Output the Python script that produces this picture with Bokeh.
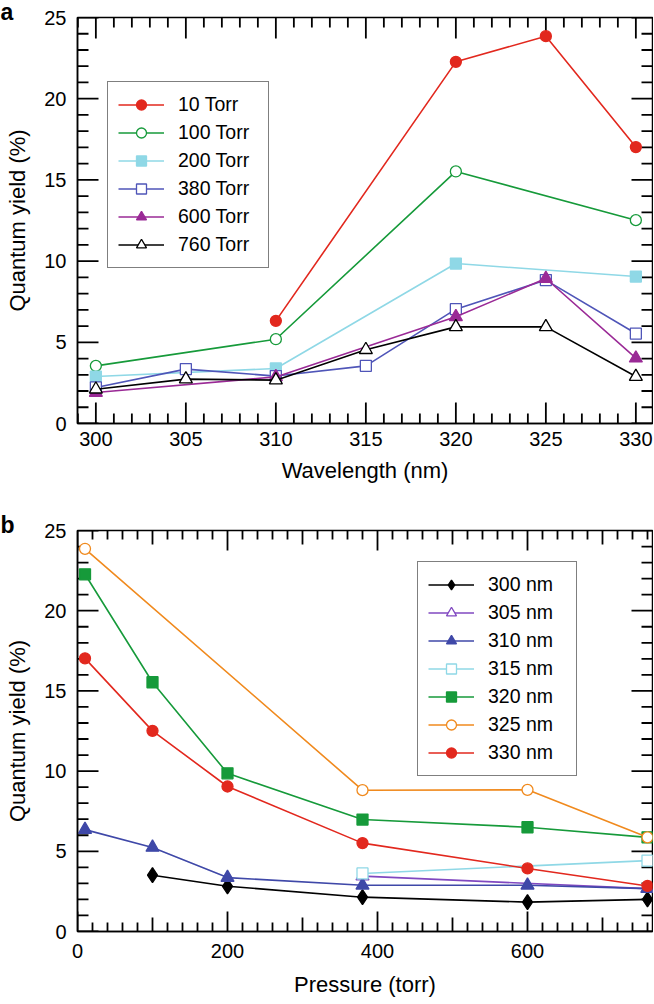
from bokeh.plotting import figure
from bokeh.models import Range1d, FixedTicker, Legend, LegendItem, Title
from bokeh.layouts import column
from bokeh.embed import file_html
from bokeh.resources import INLINE

FONT = "Liberation Sans"
NAN = float("nan")

# ---------------- Panel a data (x = wavelength, nm) ----------------
a_labels = ["10 Torr", "100 Torr", "200 Torr", "380 Torr", "600 Torr", "760 Torr"]
a_x_10 = [310, 320, 325, 330]
a_y_10 = [6.32, 22.27, 23.85, 17.02]
a_x_100 = [300, 310, 320, 330]
a_y_100 = [3.55, 5.19, 15.52, 12.52]
a_x_200 = [300, 310, 320, 330]
a_y_200 = [2.89, 3.39, 9.85, 9.05]
a_x_380 = [300, 305, 310, 315, 320, 325, 330]
a_y_380 = [2.22, 3.35, 2.92, 3.55, 7.04, 8.83, 5.54]
a_x_600 = [300, 310, 320, 325, 330]
a_y_600 = [1.91, 2.87, 6.57, 8.93, 4.02]
a_x_760 = [300, 305, 310, 315, 320, 325, 330]
a_y_760 = [2.11, 2.73, 2.67, 4.54, 5.95, 5.95, 2.89]

# ---------------- Panel b data (x = pressure, torr) ----------------
b_labels = ["300 nm", "305 nm", "310 nm", "315 nm", "320 nm", "325 nm", "330 nm"]
b_x_300 = [100, 200, 380, 600, 760]
b_y_300 = [3.51, 2.82, 2.14, 1.83, 2.00]
b_x_305 = [380, 760]
b_y_305 = [3.45, 2.67]
b_x_310 = [10, 100, 200, 380, 600, 760]
b_y_310 = [6.35, 5.24, 3.36, 2.88, 2.88, 2.67]
b_x_315 = [380, 760]
b_y_315 = [3.62, 4.42]
b_x_320 = [10, 100, 200, 380, 600, 760]
b_y_320 = [22.27, 15.54, 9.86, 6.98, 6.50, 5.87]
b_x_325 = [10, 380, 600, 760]
b_y_325 = [23.86, 8.81, 8.83, 5.87]
b_x_330 = [10, 100, 200, 380, 600, 760]
b_y_330 = [17.03, 12.51, 9.04, 5.51, 3.93, 2.84]

# ---------------- ticks ----------------
a_xticks = [300, 305, 310, 315, 320, 325, 330]
a_xminor = [299, 301, 302, 303, 304, 306, 307, 308, 309, 311, 312, 313, 314,
            316, 317, 318, 319, 321, 322, 323, 324, 326, 327, 328, 329]
yticks = [0, 5, 10, 15, 20, 25]
yminor = [1, 2, 3, 4, 6, 7, 8, 9, 11, 12, 13, 14, 16, 17, 18, 19, 21, 22, 23, 24]
b_xticks = [0, 200, 400, 600]
b_xmid = [100, 300, 500, 700]
b_xminor = [20, 40, 60, 80, 120, 140, 160, 180, 220, 240, 260, 280, 320, 340, 360, 380,
            420, 440, 460, 480, 520, 540, 560, 580, 620, 640, 660, 680, 720, 740, 760]

RED = "#e2281e"
GREEN = "#169a3a"
CYAN = "#8fd8e6"
BLUE380 = "#4f55b8"
MAGENTA = "#9a2a96"
BLACK = "#000000"
PURPLE = "#8048c0"
BLUE310 = "#3f48a8"
ORANGE = "#f08a1e"

FW = 575


def make_fig(x0, x1, xt, xlabel, fh, top_border, bottom_border, panel, tick_sd, lab_sd):
    p = figure(frame_width=FW, frame_height=fh, x_range=Range1d(x0, x1), y_range=Range1d(0, 25),
               output_backend="svg", toolbar_location=None,
               min_border_left=77, min_border_right=1,
               min_border_top=top_border, min_border_bottom=bottom_border)
    p.grid.visible = False
    p.outline_line_color = "black"
    p.outline_line_width = 1.5
    p.background_fill_color = "white"
    p.border_fill_color = "white"
    p.xaxis.ticker = FixedTicker(ticks=xt, minor_ticks=[])
    p.yaxis.ticker = FixedTicker(ticks=yticks, minor_ticks=[])
    p.xaxis.axis_label = xlabel
    p.yaxis.axis_label = "Quantum yield (%)"
    for ax in p.xaxis + p.yaxis:
        ax.axis_line_color = "black"
        ax.axis_line_width = 1.5
        ax.major_tick_in = 0
        ax.major_tick_out = 0
        ax.minor_tick_in = 0
        ax.minor_tick_out = 0
        ax.major_tick_line_color = None
        ax.minor_tick_line_color = None
        ax.major_label_text_font = FONT
        ax.major_label_text_font_size = "20px"
        ax.major_label_text_color = "black"
        ax.axis_label_text_font = FONT
        ax.axis_label_text_font_style = "normal"
        ax.axis_label_text_color = "black"
        ax.axis_label_text_font_size = "22px"
    p.xaxis.major_label_standoff = tick_sd
    p.xaxis.axis_label_standoff = lab_sd
    p.yaxis.major_label_standoff = 11
    p.yaxis.axis_label_standoff = 11
    p.add_layout(Title(text=panel, align="left", offset=-77, standoff=-14,
                       vertical_align="bottom", text_font=FONT, text_font_style="bold",
                       text_font_size="23px", text_color="black"), "above")
    return p


def add_ticks(p, x0, x1, fh, xsets, ysets):
    # inward tick marks on all four sides, one polyline broken by NaN gaps
    ky = 25.0 / fh
    kx = (x1 - x0) / FW
    xs, ys = [], []
    for ticks, L in xsets:
        for t in ticks:
            xs += [t, t, NAN, t, t, NAN]
            ys += [0.0, L * ky, NAN, 25.0, 25.0 - L * ky, NAN]
    for ticks, L in ysets:
        for t in ticks:
            xs += [x0, x0 + L * kx, NAN, x1, x1 - L * kx, NAN]
            ys += [t, t, NAN, t, t, NAN]
    p.line(xs, ys, line_color="black", line_width=1.8)


def series(p, x, y, color, marker, fill, size):
    lr = p.line(x, y, line_color=color, line_width=1.6)
    sr = p.scatter(x, y, marker=marker, size=size,
                   fill_color=fill, line_color=color, line_width=1.3)
    return [lr, sr]


def make_legend(items, loc, lw):
    return Legend(items=items, location=loc, label_text_font=FONT,
                  label_text_font_size="19.5px", label_text_color="black",
                  glyph_width=46, glyph_height=25, label_height=25, spacing=3,
                  padding=10, label_standoff=14, label_width=lw,
                  border_line_color="black", border_line_width=1.5,
                  background_fill_color="white", background_fill_alpha=1.0, margin=0)


# ---------------- Panel a ----------------
AX0, AX1 = 298.98, 298.98 + FW / 18.0
FHA = 406
pa = make_fig(AX0, AX1, a_xticks, "Wavelength (nm)", FHA, 17, 74, "a", 8, 9)
add_ticks(pa, AX0, AX1, FHA, [(a_xticks, 21), (a_xminor, 10)], [(yticks, 21), (yminor, 11)])
ra = []
ra.append(series(pa, a_x_10, a_y_10, RED, "circle", RED, 11))
ra.append(series(pa, a_x_100, a_y_100, GREEN, "circle", "white", 11))
ra.append(series(pa, a_x_200, a_y_200, CYAN, "square", CYAN, 11))
ra.append(series(pa, a_x_380, a_y_380, BLUE380, "square", "white", 11))
ra.append(series(pa, a_x_600, a_y_600, MAGENTA, "triangle", MAGENTA, 13))
ra.append(series(pa, a_x_760, a_y_760, BLACK, "triangle", "white", 13))
pa.add_layout(make_legend([LegendItem(label=l, renderers=r) for l, r in zip(a_labels, ra)],
                          (30, FHA - 66 - 185), 80))

# ---------------- Panel b ----------------
BX0, BX1 = 0, FW / 0.75
FHB = 401
pb = make_fig(BX0, BX1, b_xticks, "Pressure (torr)", FHB, 33, 60, "b", 12, 11)
add_ticks(pb, BX0, BX1, FHB, [(b_xticks, 20), (b_xmid, 14), (b_xminor, 9)],
          [(yticks, 21), (yminor, 11)])
rb = []
rb.append(series(pb, b_x_300, b_y_300, BLACK, "diamond", BLACK, 15))
rb.append(series(pb, b_x_305, b_y_305, PURPLE, "triangle", "white", 13))
rb.append(series(pb, b_x_310, b_y_310, BLUE310, "triangle", BLUE310, 13))
rb.append(series(pb, b_x_315, b_y_315, CYAN, "square", "white", 11))
rb.append(series(pb, b_x_320, b_y_320, GREEN, "square", GREEN, 11))
rb.append(series(pb, b_x_325, b_y_325, ORANGE, "circle", "white", 11))
rb.append(series(pb, b_x_330, b_y_330, RED, "circle", RED, 11))
pb.add_layout(make_legend([LegendItem(label=l, renderers=r) for l, r in zip(b_labels, rb)],
                          (340, FHB - 33 - 213), 78))

layout = column(pa, pb)
open("out.html", "w").write(file_html(layout, INLINE))
